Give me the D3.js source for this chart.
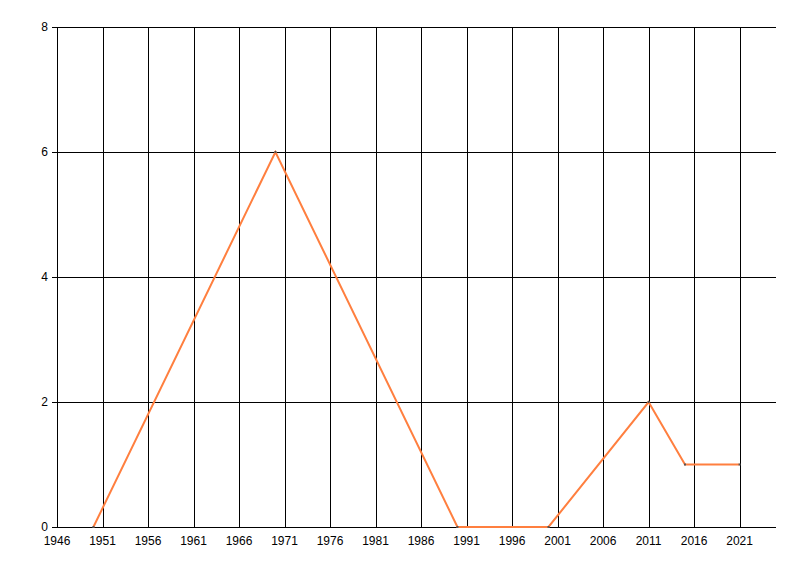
<!DOCTYPE html>
<html><head><meta charset="utf-8">
<script src="https://cdn.jsdelivr.net/npm/d3@7"></script>
<style>body{margin:0;background:#fff}svg{display:block}text{font-family:"Liberation Sans",Arial,sans-serif;font-size:12px;fill:#000}</style>
</head><body><svg id="c" width="800" height="576"></svg>
<script>
const years = [1950, 1970, 1990, 2000, 2011, 2015, 2021];
const values = [0, 6, 0, 0, 2, 1, 1];
const xTicks = [1946, 1951, 1956, 1961, 1966, 1971, 1976, 1981, 1986, 1991, 1996, 2001, 2006, 2011, 2016, 2021];
const yTicks = [0, 2, 4, 6, 8];

const svg = d3.select("#c");
const x = d3.scaleLinear().domain([1946, 2025]).range([57, 776]);
const y = d3.scaleLinear().domain([0, 8]).range([527, 27]);

const g = svg.append("g");
// vertical gridlines
g.selectAll(".vg").data(xTicks).enter().append("line")
  .attr("x1", d => Math.round(x(d)) + 0.5).attr("x2", d => Math.round(x(d)) + 0.5)
  .attr("y1", y(8)).attr("y2", y(0)).attr("stroke", "#000").attr("stroke-width", 1);
// horizontal gridlines with ticks
g.selectAll(".hg").data(yTicks).enter().append("line")
  .attr("x1", 52).attr("x2", 776)
  .attr("y1", d => Math.round(y(d)) + 0.5).attr("y2", d => Math.round(y(d)) + 0.5)
  .attr("stroke", "#000").attr("stroke-width", 1);
// y labels
g.selectAll(".yl").data(yTicks).enter().append("text")
  .attr("x", 48).attr("y", d => y(d) + 4).attr("text-anchor", "end").text(d => d);
// x labels
g.selectAll(".xl").data(xTicks).enter().append("text")
  .attr("x", d => x(d)).attr("y", 545).attr("text-anchor", "middle").text(d => d);

const pts = years.map((d, i) => [d, values[i]]);
svg.append("path").datum(pts)
  .attr("d", d3.line().x(d => x(d[0])).y(d => y(d[1])))
  .attr("fill", "none").attr("stroke", "#ff7f3f").attr("stroke-width", 2);
svg.selectAll(".m").data(pts).enter().append("rect")
  .attr("x", d => x(d[0]) - 1).attr("y", d => y(d[1]) - 1)
  .attr("width", 2).attr("height", 2).attr("fill", "#555");
</script></body></html>
